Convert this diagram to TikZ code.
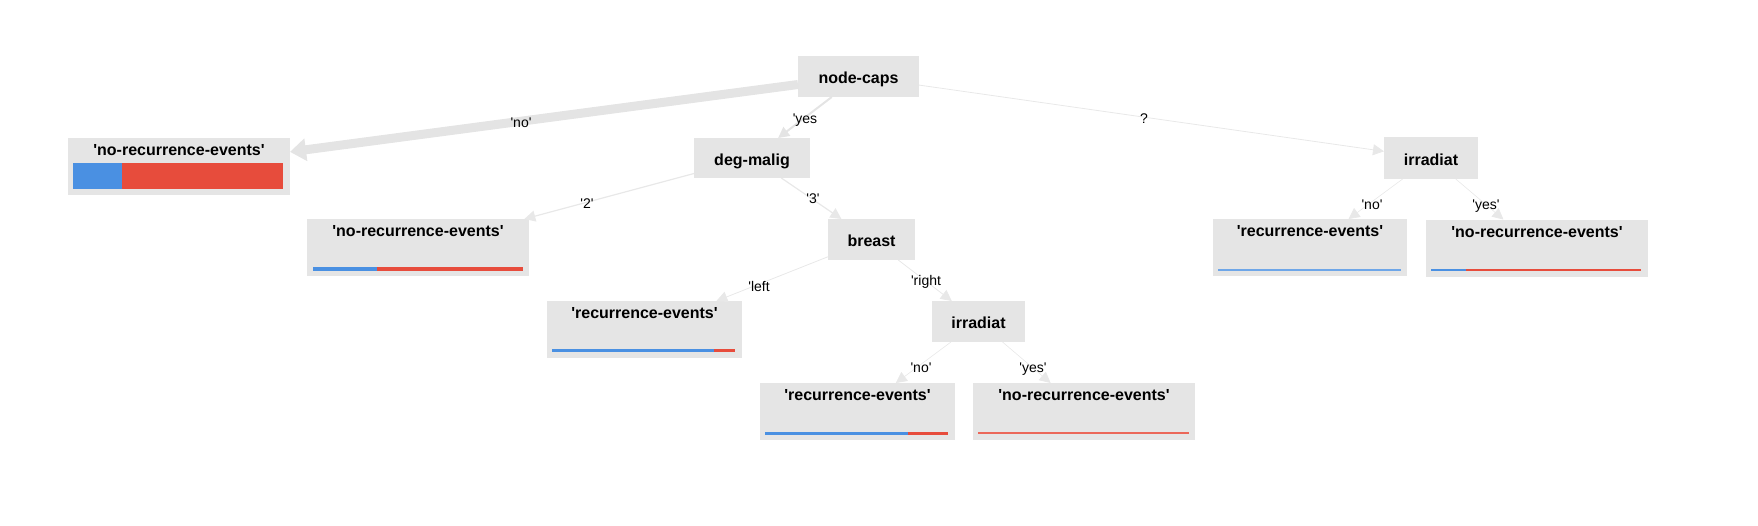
\documentclass[tikz,border=0pt]{standalone}
\usepackage{fontspec}
\setmainfont{Liberation Sans}[Ligatures=TeXOff]
\usetikzlibrary{arrows.meta,calc}
\definecolor{boxgray}{RGB}{229,229,229}
\definecolor{edgegray}{RGB}{228,228,228}
\definecolor{thingray}{RGB}{232,232,232}
\definecolor{barblue}{RGB}{74,144,226}
\definecolor{barred}{RGB}{231,76,60}
\begin{document}
\begin{tikzpicture}[x=1pt,y=-1pt,
  splitbox/.style={fill=boxgray,draw=none,inner sep=0pt,outer sep=0pt,
    font=\bfseries\fontsize{16}{19}\selectfont,text height=16pt,text depth=2pt},
  leafbox/.style={fill=boxgray,draw=none,inner sep=0pt,outer sep=0pt,minimum height=57pt},
  leaftitle/.style={font=\bfseries\fontsize{16}{19}\selectfont,inner sep=0pt,anchor=base},
  edgelabel/.style={font=\fontsize{14}{16}\selectfont,inner sep=0pt,anchor=base},
  conn/.style={draw=thingray,-{Triangle[length=11pt,width=11pt]}},
  bluebar/.style={fill=barblue,draw=none},
  redbar/.style={fill=barred,draw=none}]
\useasboundingbox (0,0) rectangle (1758,525);

% split nodes
\node[splitbox,minimum width=121pt,minimum height=41pt] (nc) at (858.5,76.5) {node-caps};
\node[splitbox,minimum width=116pt,minimum height=40pt] (dm) at (752,158) {deg-malig};
\node[splitbox,minimum width=87pt,minimum height=41pt] (br) at (871.5,239.5) {breast};
\node[splitbox,minimum width=93pt,minimum height=41pt] (irb) at (978.5,321.5) {irradiat};
\node[splitbox,minimum width=94pt,minimum height=42pt] (ira) at (1431,158) {irradiat};

% leaf nodes
\node[leafbox,minimum width=222pt] (l1) at (179,166.5) {};
\node[leafbox,minimum width=222pt] (l2) at (418,247.5) {};
\node[leafbox,minimum width=195pt] (l3) at (644.5,329.5) {};
\node[leafbox,minimum width=195pt] (l4) at (857.5,411.5) {};
\node[leafbox,minimum width=222pt] (l5) at (1084,411.5) {};
\node[leafbox,minimum width=194pt] (l6) at (1310,247.5) {};
\node[leafbox,minimum width=222pt] (l7) at (1537,248) {};

\node[leaftitle] (t1) at ($(l1.north)+(0,17)$) {'no-recurrence-events'};
\node[leaftitle] (t2) at ($(l2.north)+(0,17.5)$) {'no-recurrence-events'};
\node[leaftitle] (t3) at ($(l3.north)+(0,17.5)$) {'recurrence-events'};
\node[leaftitle] (t4) at ($(l4.north)+(0,17.5)$) {'recurrence-events'};
\node[leaftitle] (t5) at ($(l5.north)+(0,17.5)$) {'no-recurrence-events'};
\node[leaftitle] (t6) at ($(l6.north)+(0,17.5)$) {'recurrence-events'};
\node[leaftitle] (t7) at ($(l7.north)+(0,17.5)$) {'no-recurrence-events'};

% class bars
\fill[bluebar] (73,163) rectangle (122,189);
\fill[redbar] (122,163) rectangle (283,189);
\fill[bluebar] (313,267) rectangle (377,271);
\fill[redbar] (377,267) rectangle (523,271);
\fill[bluebar] (552,349) rectangle (714,352);
\fill[redbar] (714,349) rectangle (735,352);
\fill[bluebar] (765,432) rectangle (908,434.5);
\fill[redbar] (908,432) rectangle (948,434.5);
\fill[fill=barred!85!white] (978,432) rectangle (1189,434);
\fill[fill=barblue!80!white] (1218,269) rectangle (1401,271);
\fill[bluebar] (1431,269) rectangle (1466,271);
\fill[redbar] (1466,269) rectangle (1641,271);

% connectors
\draw[conn,draw=edgegray,line width=9pt,-{Triangle[length=16pt,width=22pt]}] (nc) -- (l1);
\draw[conn,draw=edgegray,line width=2pt] (nc) -- (dm);
\draw[conn,line width=0.8pt] (nc) -- (ira);
\draw[conn,line width=1.2pt] (dm) -- (l2);
\draw[conn,line width=1.2pt] (dm) -- (br);
\draw[conn,line width=0.8pt] (br) -- (l3);
\draw[conn,line width=0.8pt] (br) -- (irb);
\draw[conn,line width=0.6pt] (irb) -- (l4);
\draw[conn,line width=0.6pt] (irb) -- (l5);
\draw[conn,line width=0.6pt] (ira) -- (l6);
\draw[conn,line width=0.6pt] (ira) -- (l7);

% edge labels
\node[edgelabel] (e1) at (521,127) {'no'};
\node[edgelabel] (e2) at (805,123) {'yes};
\node[edgelabel] (e3) at (1144,123) {?};
\node[edgelabel] (e4) at (587,208) {'2'};
\node[edgelabel] (e5) at (813,203) {'3'};
\node[edgelabel] (e6) at (759,291) {'left};
\node[edgelabel] (e7) at (926,285) {'right};
\node[edgelabel] (e8) at (921,372) {'no'};
\node[edgelabel] (e9) at (1033,372) {'yes'};
\node[edgelabel] (e10) at (1372,209) {'no'};
\node[edgelabel] (e11) at (1486,209) {'yes'};
\end{tikzpicture}
\end{document}
